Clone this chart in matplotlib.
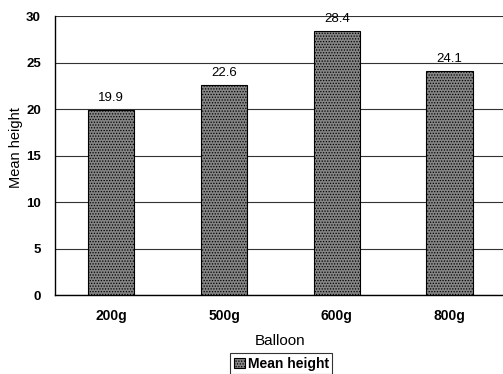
import numpy as np
import matplotlib
matplotlib.use("Agg")
import matplotlib.pyplot as plt

plt.rcParams['font.family'] = ['Liberation Sans', 'DejaVu Sans']
plt.rcParams['hatch.color'] = '#4a4a4a'
plt.rcParams['hatch.linewidth'] = 0.6

balloons = ['200g', '500g', '600g', '800g']
mean_height = [19.9, 22.6, 28.4, 24.1]
yticks = [0, 5, 10, 15, 20, 25, 30]

fig = plt.figure(figsize=(5.03, 3.74), dpi=100)
ax = fig.add_axes([0.109, 0.211, 0.897, 0.746])

x = np.arange(len(balloons))
bars = ax.bar(x, mean_height, width=0.41, color='#858585', edgecolor='black',
              linewidth=0.8, hatch='......', label='Mean height', zorder=3)

for xi, v in zip(x, mean_height):
    ax.text(xi, v + 0.6, f'{v:.1f}', ha='center', va='bottom', fontsize=9.5)

ax.set_xlim(-0.5, len(balloons) - 0.5)
ax.set_ylim(0, 30)
ax.set_yticks(yticks)
ax.yaxis.grid(True, color='#333333', linewidth=0.8, zorder=0)
ax.set_axisbelow(True)
ax.set_xticks(x)
ax.set_xticklabels(balloons, fontsize=10, fontweight='bold')
for lab in ax.get_yticklabels():
    lab.set_fontsize(9.5)
    lab.set_fontweight('bold')
ax.tick_params(axis='x', length=0, pad=10)
ax.tick_params(axis='y', length=0, pad=10)

for s in ['top', 'right']:
    ax.spines[s].set_visible(False)
ax.spines['left'].set_linewidth(1.0)
ax.spines['bottom'].set_linewidth(1.0)

ax.set_xlabel('Balloon', fontsize=11, labelpad=8)
ax.set_ylabel('Mean height', fontsize=10.5)
ax.yaxis.set_label_coords(-0.07, 0.53)

leg = fig.legend(loc='upper center', bbox_to_anchor=(0.559, 0.055), fontsize=10,
                 frameon=True, fancybox=False, edgecolor='black',
                 handlelength=0.8, handleheight=0.8, handletextpad=0.2,
                 borderpad=0.25, borderaxespad=0)
leg.get_frame().set_linewidth(0.8)
for t in leg.get_texts():
    t.set_fontweight('bold')

fig.savefig('out.png', dpi=100)
